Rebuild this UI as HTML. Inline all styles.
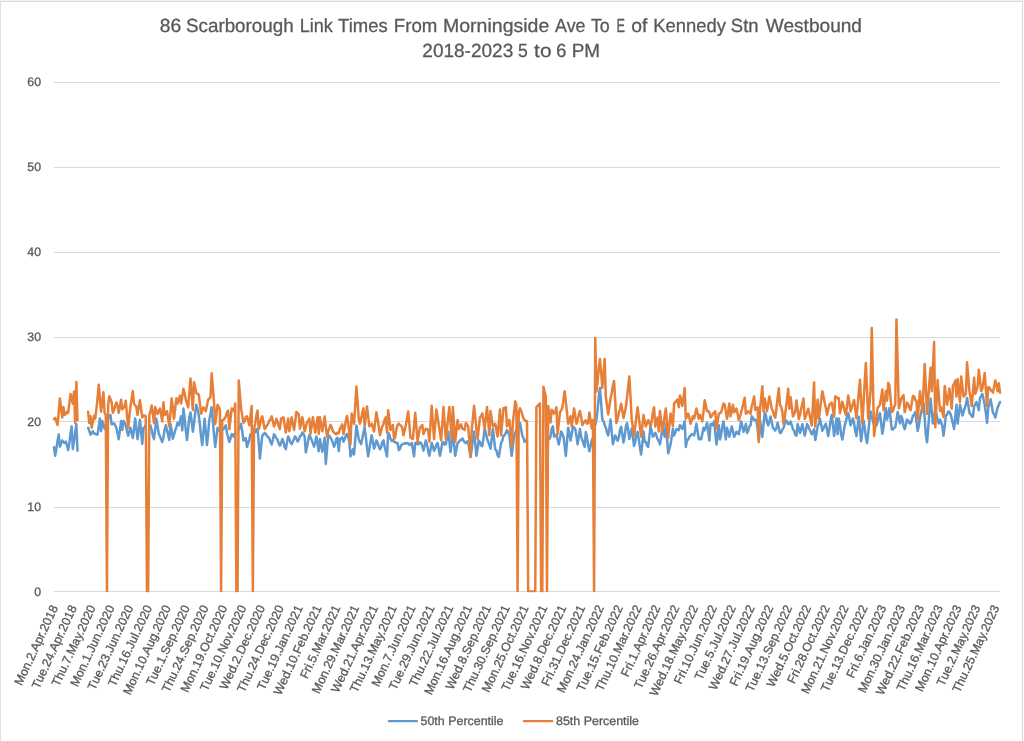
<!DOCTYPE html>
<html><head><meta charset="utf-8"><title>86 Scarborough Link Times</title>
<style>
html,body{margin:0;padding:0;background:#fff;}
body{width:1024px;height:741px;overflow:hidden;font-family:"Liberation Sans", sans-serif;}
svg{display:block;}
svg text{text-rendering:geometricPrecision;font-family:"Liberation Sans", sans-serif;fill:#595959;stroke:#595959;stroke-width:0.3px;}
</style></head><body>
<svg width="1024" height="741" viewBox="0 0 1024 741">
<defs><filter id="soft" x="-1%" y="-1%" width="102%" height="102%"><feGaussianBlur stdDeviation="0.3"/></filter></defs>
<rect x="0" y="0" width="1024" height="741" fill="#fff"/>
<g filter="url(#soft)">

<rect x="0" y="0" width="1023" height="1" fill="#f2f2f2"/>
<rect x="0" y="1" width="1023" height="1" fill="#d9d9d9"/>
<rect x="0" y="1" width="1" height="740" fill="#e0e0e0"/>
<rect x="1022" y="1" width="1" height="740" fill="#d9d9d9"/>
<g transform="translate(0,-0.45)">
<text x="159.89" y="32.6" font-size="19.0" textLength="21.46" lengthAdjust="spacingAndGlyphs">86</text>
<text x="186.01" y="32.6" font-size="19.0" textLength="107.68" lengthAdjust="spacingAndGlyphs">Scarborough</text>
<text x="299.75" y="32.6" font-size="19.0" textLength="33.12" lengthAdjust="spacingAndGlyphs">Link</text>
<text x="338.1" y="32.6" font-size="19.0" textLength="49.63" lengthAdjust="spacingAndGlyphs">Times</text>
<text x="393.82" y="32.6" font-size="19.0" textLength="43.5" lengthAdjust="spacingAndGlyphs">From</text>
<text x="442.97" y="32.6" font-size="19.0" textLength="106.34" lengthAdjust="spacingAndGlyphs">Morningside</text>
<text x="555.1" y="32.6" font-size="19.0" textLength="30.38" lengthAdjust="spacingAndGlyphs">Ave</text>
<text x="590.9" y="32.6" font-size="19.0" textLength="18.87" lengthAdjust="spacingAndGlyphs">To</text>
<text x="616.43" y="32.6" font-size="19.0" textLength="8.54" lengthAdjust="spacingAndGlyphs">E</text>
<text x="631.2" y="32.6" font-size="19.0" textLength="16.16" lengthAdjust="spacingAndGlyphs">of</text>
<text x="653.13" y="32.6" font-size="19.0" textLength="72.79" lengthAdjust="spacingAndGlyphs">Kennedy</text>
<text x="730.83" y="32.6" font-size="19.0" textLength="27.69" lengthAdjust="spacingAndGlyphs">Stn</text>
<text x="765.8" y="32.6" font-size="19.0" textLength="96.18" lengthAdjust="spacingAndGlyphs">Westbound</text>
<text x="422.3" y="57.6" font-size="19.0" textLength="90.98" lengthAdjust="spacingAndGlyphs">2018-2023</text>
<text x="517.98" y="57.6" font-size="19.0" textLength="9.76" lengthAdjust="spacingAndGlyphs">5</text>
<text x="534.1" y="57.6" font-size="19.0" textLength="17.45" lengthAdjust="spacingAndGlyphs">to</text>
<text x="556.34" y="57.6" font-size="19.0" textLength="10.11" lengthAdjust="spacingAndGlyphs">6</text>
<text x="571.7" y="57.6" font-size="19.0" textLength="28.39" lengthAdjust="spacingAndGlyphs">PM</text>
</g>
<rect x="54" y="591" width="946" height="1" fill="#d9d9d9"/>
<rect x="54" y="507" width="946" height="1" fill="#d9d9d9"/>
<rect x="54" y="421" width="946" height="1" fill="#d9d9d9"/>
<rect x="54" y="337" width="946" height="1" fill="#d9d9d9"/>
<rect x="54" y="252" width="946" height="1" fill="#d9d9d9"/>
<rect x="54" y="167" width="946" height="1" fill="#d9d9d9"/>
<rect x="54" y="82" width="946" height="1" fill="#d9d9d9"/>
<text x="41.0" y="596" font-size="12.3" text-anchor="end">0</text>
<text x="41.0" y="511" font-size="12.3" text-anchor="end">10</text>
<text x="41.0" y="426" font-size="12.3" text-anchor="end">20</text>
<text x="41.0" y="341" font-size="12.3" text-anchor="end">30</text>
<text x="41.0" y="256" font-size="12.3" text-anchor="end">40</text>
<text x="41.0" y="171" font-size="12.3" text-anchor="end">50</text>
<text x="41.0" y="86" font-size="12.3" text-anchor="end">60</text>
<text transform="translate(54.30,605.8) rotate(-65)" x="0" y="4.4" font-size="12.3" text-anchor="end">Mon.2.Apr.2018</text>
<text transform="translate(73.13,605.8) rotate(-65)" x="0" y="4.4" font-size="12.3" text-anchor="end">Tue.24.Apr.2018</text>
<text transform="translate(91.95,605.8) rotate(-65)" x="0" y="4.4" font-size="12.3" text-anchor="end">Thu.7.May.2020</text>
<text transform="translate(110.78,605.8) rotate(-65)" x="0" y="4.4" font-size="12.3" text-anchor="end">Mon.1.Jun.2020</text>
<text transform="translate(129.60,605.8) rotate(-65)" x="0" y="4.4" font-size="12.3" text-anchor="end">Tue.23.Jun.2020</text>
<text transform="translate(148.43,605.8) rotate(-65)" x="0" y="4.4" font-size="12.3" text-anchor="end">Thu.16.Jul.2020</text>
<text transform="translate(167.26,605.8) rotate(-65)" x="0" y="4.4" font-size="12.3" text-anchor="end">Mon.10.Aug.2020</text>
<text transform="translate(186.08,605.8) rotate(-65)" x="0" y="4.4" font-size="12.3" text-anchor="end">Tue.1.Sep.2020</text>
<text transform="translate(204.91,605.8) rotate(-65)" x="0" y="4.4" font-size="12.3" text-anchor="end">Thu.24.Sep.2020</text>
<text transform="translate(223.73,605.8) rotate(-65)" x="0" y="4.4" font-size="12.3" text-anchor="end">Mon.19.Oct.2020</text>
<text transform="translate(242.56,605.8) rotate(-65)" x="0" y="4.4" font-size="12.3" text-anchor="end">Tue.10.Nov.2020</text>
<text transform="translate(261.38,605.8) rotate(-65)" x="0" y="4.4" font-size="12.3" text-anchor="end">Wed.2.Dec.2020</text>
<text transform="translate(280.21,605.8) rotate(-65)" x="0" y="4.4" font-size="12.3" text-anchor="end">Thu.24.Dec.2020</text>
<text transform="translate(299.04,605.8) rotate(-65)" x="0" y="4.4" font-size="12.3" text-anchor="end">Tue.19.Jan.2021</text>
<text transform="translate(317.86,605.8) rotate(-65)" x="0" y="4.4" font-size="12.3" text-anchor="end">Wed.10.Feb.2021</text>
<text transform="translate(336.69,605.8) rotate(-65)" x="0" y="4.4" font-size="12.3" text-anchor="end">Fri.5.Mar.2021</text>
<text transform="translate(355.51,605.8) rotate(-65)" x="0" y="4.4" font-size="12.3" text-anchor="end">Mon.29.Mar.2021</text>
<text transform="translate(374.34,605.8) rotate(-65)" x="0" y="4.4" font-size="12.3" text-anchor="end">Wed.21.Apr.2021</text>
<text transform="translate(393.17,605.8) rotate(-65)" x="0" y="4.4" font-size="12.3" text-anchor="end">Thu.13.May.2021</text>
<text transform="translate(411.99,605.8) rotate(-65)" x="0" y="4.4" font-size="12.3" text-anchor="end">Mon.7.Jun.2021</text>
<text transform="translate(430.82,605.8) rotate(-65)" x="0" y="4.4" font-size="12.3" text-anchor="end">Tue.29.Jun.2021</text>
<text transform="translate(449.64,605.8) rotate(-65)" x="0" y="4.4" font-size="12.3" text-anchor="end">Thu.22.Jul.2021</text>
<text transform="translate(468.47,605.8) rotate(-65)" x="0" y="4.4" font-size="12.3" text-anchor="end">Mon.16.Aug.2021</text>
<text transform="translate(487.30,605.8) rotate(-65)" x="0" y="4.4" font-size="12.3" text-anchor="end">Wed.8.Sep.2021</text>
<text transform="translate(506.12,605.8) rotate(-65)" x="0" y="4.4" font-size="12.3" text-anchor="end">Thu.30.Sep.2021</text>
<text transform="translate(524.95,605.8) rotate(-65)" x="0" y="4.4" font-size="12.3" text-anchor="end">Mon.25.Oct.2021</text>
<text transform="translate(543.77,605.8) rotate(-65)" x="0" y="4.4" font-size="12.3" text-anchor="end">Tue.16.Nov.2021</text>
<text transform="translate(562.60,605.8) rotate(-65)" x="0" y="4.4" font-size="12.3" text-anchor="end">Wed.8.Dec.2021</text>
<text transform="translate(581.42,605.8) rotate(-65)" x="0" y="4.4" font-size="12.3" text-anchor="end">Fri.31.Dec.2021</text>
<text transform="translate(600.25,605.8) rotate(-65)" x="0" y="4.4" font-size="12.3" text-anchor="end">Mon.24.Jan.2022</text>
<text transform="translate(619.08,605.8) rotate(-65)" x="0" y="4.4" font-size="12.3" text-anchor="end">Tue.15.Feb.2022</text>
<text transform="translate(637.90,605.8) rotate(-65)" x="0" y="4.4" font-size="12.3" text-anchor="end">Thu.10.Mar.2022</text>
<text transform="translate(656.73,605.8) rotate(-65)" x="0" y="4.4" font-size="12.3" text-anchor="end">Fri.1.Apr.2022</text>
<text transform="translate(675.55,605.8) rotate(-65)" x="0" y="4.4" font-size="12.3" text-anchor="end">Tue.26.Apr.2022</text>
<text transform="translate(694.38,605.8) rotate(-65)" x="0" y="4.4" font-size="12.3" text-anchor="end">Wed.18.May.2022</text>
<text transform="translate(713.21,605.8) rotate(-65)" x="0" y="4.4" font-size="12.3" text-anchor="end">Fri.10.Jun.2022</text>
<text transform="translate(732.03,605.8) rotate(-65)" x="0" y="4.4" font-size="12.3" text-anchor="end">Tue.5.Jul.2022</text>
<text transform="translate(750.86,605.8) rotate(-65)" x="0" y="4.4" font-size="12.3" text-anchor="end">Wed.27.Jul.2022</text>
<text transform="translate(769.68,605.8) rotate(-65)" x="0" y="4.4" font-size="12.3" text-anchor="end">Fri.19.Aug.2022</text>
<text transform="translate(788.51,605.8) rotate(-65)" x="0" y="4.4" font-size="12.3" text-anchor="end">Tue.13.Sep.2022</text>
<text transform="translate(807.33,605.8) rotate(-65)" x="0" y="4.4" font-size="12.3" text-anchor="end">Wed.5.Oct.2022</text>
<text transform="translate(826.16,605.8) rotate(-65)" x="0" y="4.4" font-size="12.3" text-anchor="end">Fri.28.Oct.2022</text>
<text transform="translate(844.99,605.8) rotate(-65)" x="0" y="4.4" font-size="12.3" text-anchor="end">Mon.21.Nov.2022</text>
<text transform="translate(863.81,605.8) rotate(-65)" x="0" y="4.4" font-size="12.3" text-anchor="end">Tue.13.Dec.2022</text>
<text transform="translate(882.64,605.8) rotate(-65)" x="0" y="4.4" font-size="12.3" text-anchor="end">Fri.6.Jan.2023</text>
<text transform="translate(901.46,605.8) rotate(-65)" x="0" y="4.4" font-size="12.3" text-anchor="end">Mon.30.Jan.2023</text>
<text transform="translate(920.29,605.8) rotate(-65)" x="0" y="4.4" font-size="12.3" text-anchor="end">Wed.22.Feb.2023</text>
<text transform="translate(939.12,605.8) rotate(-65)" x="0" y="4.4" font-size="12.3" text-anchor="end">Thu.16.Mar.2023</text>
<text transform="translate(957.94,605.8) rotate(-65)" x="0" y="4.4" font-size="12.3" text-anchor="end">Mon.10.Apr.2023</text>
<text transform="translate(976.77,605.8) rotate(-65)" x="0" y="4.4" font-size="12.3" text-anchor="end">Tue.2.May.2023</text>
<text transform="translate(995.59,605.8) rotate(-65)" x="0" y="4.4" font-size="12.3" text-anchor="end">Thu.25.May.2023</text>
<clipPath id="pa"><rect x="0" y="0" width="1024" height="592.3"/></clipPath>
<g clip-path="url(#pa)">
<path d="M54.00,447.2 55.18,455.8 56.35,448.9 57.53,441.1 58.71,434.6 59.88,446.7 61.06,443.8 62.24,440.4 63.41,442.1 64.59,443.0 65.77,441.5 66.94,444.9 68.12,450.1 69.30,443.4 70.47,434.1 71.65,426.6 72.83,449.0 74.00,441.5 75.18,432.3 76.36,424.3 77.53,450.7M88.12,427.8 89.30,430.9 90.48,434.6 91.65,433.4 92.83,431.2 94.00,433.5 95.18,433.6 96.36,434.6 97.53,434.6 98.71,427.0 99.89,418.6 101.06,431.2 102.24,420.9 103.42,424.7 104.59,428.9 105.77,428.0M108.12,418.0 109.30,416.0 110.48,415.1 111.65,424.3 112.83,424.0 114.01,423.2 115.18,425.2 116.36,427.8 117.54,433.4 118.71,439.2 119.89,430.5 121.07,420.9 122.24,430.0 123.42,420.9 124.60,422.8 125.77,425.5 126.95,430.6 128.13,435.8 129.30,432.0 130.48,427.8 131.66,432.7 132.83,438.1 134.01,428.9 135.19,418.6 136.36,428.5 137.54,439.2 138.72,430.5 139.89,419.7 141.07,430.9 142.25,443.8 143.42,427.8 144.60,427.3 145.78,425.0M149.31,428.0 150.48,425.5 151.66,429.9 152.84,435.7 154.01,439.2 155.19,429.3 156.37,418.6 157.54,425.9 158.72,433.5 159.90,436.0 161.07,439.3 162.25,441.9 163.43,437.2 164.60,429.7 165.78,425.3 166.96,429.8 168.13,435.3 169.31,440.0 170.49,424.0 171.66,430.4 172.84,438.7 174.01,434.9 175.19,430.4 176.37,427.1 177.54,422.7 178.72,425.3 179.90,421.1 181.07,416.3 182.25,430.4 183.43,408.6 184.60,418.1 185.78,429.8 186.96,440.0 188.13,429.5 189.31,417.6 190.49,412.4 191.66,421.1 192.84,431.7 194.02,423.8 195.19,412.7 196.37,404.7 197.55,409.1 198.72,415.0 199.90,424.9 201.08,436.3 202.25,445.1 203.43,432.0 204.61,418.8 205.78,431.5 206.96,445.1 208.14,433.8 209.31,420.1 210.49,413.8 211.67,407.3 212.84,420.3 214.02,434.5 215.20,447.0 216.37,437.7 217.55,427.8 218.73,429.7 219.90,431.7M222.26,428.0 223.43,429.1 224.61,427.3 225.79,425.3 226.96,433.0 228.14,437.1 229.32,441.9 230.49,438.6 231.67,434.2 232.85,434.7 234.02,436.8 235.20,433.0M238.73,430.0 239.91,427.0 241.08,424.0 242.26,431.5 243.44,440.6 244.61,439.4 245.79,438.1 246.97,447.1 248.14,443.6 249.32,439.4 250.50,434.2 251.67,433.9M254.02,432.0 255.20,432.3 256.38,429.2 257.55,429.1 258.73,443.0 259.91,458.6 261.08,447.2 262.26,435.5 263.44,434.4 264.61,432.9 265.79,433.9 266.97,436.2 268.14,436.8 269.32,438.5 270.50,442.0 271.67,444.5 272.85,439.7 274.03,434.2 275.20,436.1 276.38,438.1 277.56,439.8 278.73,443.4 279.91,445.8 281.09,443.0 282.26,439.0 283.44,441.6 284.62,447.2 285.79,449.2 286.97,443.1 288.15,436.4 289.32,438.8 290.50,442.4 291.68,444.1 292.85,441.8 294.03,438.9 295.21,436.4 296.38,438.7 297.56,441.5 298.74,440.0 299.91,436.4 301.09,435.6 302.27,432.6 303.44,433.7 304.62,436.4 305.80,452.4 306.97,446.9 308.15,440.5 309.33,435.1 310.50,437.2 311.68,440.3 312.86,443.2 314.03,446.7 315.21,442.8 316.39,436.4 317.56,443.6 318.74,451.2 319.92,439.0 321.09,445.2 322.27,451.8 323.45,445.7 324.62,437.7 325.80,464.0 326.98,450.1 328.15,435.1 329.33,435.9 330.50,437.7 331.68,439.8 332.86,442.8 334.03,446.7 335.21,444.1 336.39,438.7 337.56,437.7 338.74,451.2 339.92,439.1 341.09,438.6 342.27,437.2 343.45,441.7 344.62,439.3 345.80,435.6 346.98,434.0 348.15,437.0 349.33,441.7 350.51,456.4 351.68,453.3 352.86,449.4 354.04,454.5 355.21,440.1 356.39,425.6 357.57,432.0 358.74,439.1 359.92,441.6 361.10,444.2 362.27,438.8 363.45,432.4 364.63,427.6 365.80,436.4 366.98,447.5 368.16,456.4 369.33,449.3 370.51,441.7 371.69,435.3 372.86,441.7 374.04,448.7 375.22,445.2 376.39,440.4 377.57,442.8 378.75,446.5 379.92,449.4 381.10,447.1 382.28,442.1 383.45,440.4 384.63,446.8 385.81,451.2 386.98,456.4 388.16,432.7 389.34,434.9 390.51,438.7 391.69,441.0 392.87,440.3 394.04,441.7 395.22,442.1 396.40,443.1 397.57,443.0 398.75,450.0 399.93,449.0 401.10,445.3 402.28,444.2 403.46,444.1 404.63,443.2 405.81,443.7 406.99,443.0 408.16,443.2 409.34,444.9 410.51,444.3 411.69,443.0 412.87,449.3 414.04,456.4 415.22,443.0 416.40,442.7 417.57,444.2 418.75,444.1 419.93,442.3 421.10,443.0 422.28,446.1 423.46,450.6 424.63,445.7 425.81,440.4 426.99,444.6 428.16,451.2 429.34,455.8 430.52,449.4 431.69,443.0 432.87,446.6 434.05,450.6 435.22,448.3 436.40,444.8 437.58,443.0 438.75,449.1 439.93,455.8 441.11,449.4 442.28,443.0 443.46,442.0 444.64,444.6 445.81,444.2 446.99,437.9 448.17,431.4 449.34,440.6 450.52,451.9 451.70,442.7 452.87,432.7 454.05,444.1 455.23,455.8 456.40,449.5 457.58,443.0 458.76,442.2 459.93,440.4 461.11,439.8 462.29,438.5 463.46,440.3 464.64,442.3 465.82,443.1 466.99,441.6 468.17,441.7 469.35,449.2 470.52,457.0 471.70,449.4 472.88,438.9 474.05,431.4 475.23,443.3 476.41,455.8 477.58,449.1 478.76,440.4 479.94,442.2 481.11,445.5 482.29,446.2 483.47,438.1 484.64,428.8 485.82,432.3 487.00,438.5 488.17,441.7 489.35,444.8 490.52,448.7 491.70,438.8 492.88,428.8 494.05,439.0 495.23,449.4 496.41,450.4 497.58,455.2 498.76,457.0 499.94,450.1 501.11,442.9 502.29,440.9 503.47,435.8 504.64,435.3 505.82,432.9 507.00,430.1 508.17,432.3 509.35,435.3 510.53,445.5 511.70,455.8 512.88,445.9 514.06,435.3 515.23,432.9 516.41,430.0M518.76,428.0 519.94,423.0 521.12,429.1 522.29,435.4 523.47,438.0 524.65,441.8 525.82,440.5M549.36,439.2 550.53,436.4 551.71,428.8 552.89,426.4 554.06,436.7 555.24,436.0 556.42,434.7 557.59,439.3 558.77,444.4 559.95,438.4 561.12,431.5 562.30,433.7 563.48,436.7 564.65,445.6 565.83,455.9 567.00,442.0 568.18,427.7 569.36,433.2 570.53,440.5 571.71,434.4 572.89,426.4 574.06,427.5 575.24,429.0 576.42,436.1 577.59,444.4 578.77,436.8 579.95,429.0 581.12,436.7 582.30,440.0 583.48,443.7 584.65,446.9 585.83,431.9 587.01,437.6 588.18,445.2 589.36,451.3 590.54,446.1 591.71,440.7 592.89,438.0M595.24,425.0 596.42,419.6 597.60,410.3 598.77,397.2 599.95,388.0 601.13,403.1 602.30,419.6 603.48,421.1 604.66,424.9 605.83,427.7 607.01,432.4 608.19,435.4 609.36,428.5 610.54,419.6 611.72,431.6 612.89,444.2 614.07,440.1 615.25,435.4 616.42,437.8 617.60,440.7 618.78,437.8 619.95,430.2 621.13,426.7 622.31,434.3 623.48,442.5 624.66,436.5 625.84,426.7 627.01,423.1 628.19,430.0 629.37,439.0 630.54,434.2 631.72,428.4 632.90,437.0 634.07,446.0 635.25,441.9 636.43,434.3 637.60,431.9 638.78,439.4 639.96,447.8 641.13,454.6 642.31,443.7 643.49,431.5 644.66,441.8 645.84,441.9 647.01,445.7 648.19,446.9 649.37,436.7 650.54,426.4 651.72,431.5 652.90,436.7 654.07,435.2 655.25,432.8 656.43,435.6 657.60,439.2 658.78,441.2 659.96,444.4 661.13,436.9 662.31,427.7 663.49,432.0 664.66,436.7 665.84,423.8 667.02,438.2 668.19,453.3 669.37,448.9 670.55,444.4 671.72,437.0 672.90,429.0 674.08,435.4 675.25,432.8 676.43,429.0 677.61,429.4 678.78,430.3 679.96,425.1 681.14,426.7 682.31,429.0 683.49,425.8 684.67,421.3 685.84,446.9 687.02,440.5 688.20,439.5 689.37,436.7 690.55,435.8 691.73,434.1 692.90,434.4 694.08,435.4 695.26,430.0 696.43,423.8 697.61,431.5 698.79,439.2 699.96,438.6 701.14,439.4 702.32,433.8 703.49,427.8 704.67,430.4 705.85,427.2 707.02,422.7 708.20,431.5 709.38,440.6 710.55,424.0 711.73,424.1 712.91,425.3 714.08,421.4 715.26,432.7 716.44,444.5 717.61,435.6 718.79,425.3 719.97,439.4 721.14,435.0 722.32,426.4 723.50,421.4 724.67,430.1 725.85,439.4 727.02,427.8 728.20,432.2 729.38,436.8 730.55,431.7 731.73,426.5 732.91,430.9 734.08,436.8 735.26,434.7 736.44,431.7 737.61,432.8 738.79,434.2 739.97,428.2 741.14,421.4 742.32,426.2 743.50,431.7 744.67,428.6 745.85,424.0 747.03,432.9 748.20,430.9 749.38,426.5 750.56,425.3 751.73,416.3 752.91,417.8 754.09,420.1 755.26,419.7 756.44,420.1 757.62,429.0 758.79,440.6 759.97,420.3 761.15,428.2 762.32,436.9 763.50,425.0 764.68,412.6 765.85,414.9 767.03,422.2 768.21,425.4 769.38,421.4 770.56,416.4 771.74,421.9 772.91,427.9 774.09,429.0 775.27,430.5 776.44,428.0 777.62,422.8 778.80,427.8 779.97,433.1 781.15,432.5 782.33,429.6 783.50,427.9 784.68,424.2 785.86,420.3 787.03,421.6 788.21,424.1 789.39,423.8 790.56,421.5 791.74,425.0 792.92,429.2 794.09,430.6 795.27,435.0 796.45,435.6 797.62,424.1 798.80,428.3 799.98,433.1 801.15,428.8 802.33,424.1 803.50,429.4 804.68,435.6 805.86,430.6 807.03,424.1 808.21,426.0 809.39,429.2 810.56,431.5 811.74,434.4 812.92,431.8 814.09,429.2 815.27,440.1 816.45,433.9 817.62,426.7 818.80,423.6 819.98,419.0 821.15,424.6 822.33,430.7 823.51,428.5 824.68,425.6 825.86,423.7 827.04,429.6 828.21,436.0 829.39,429.4 830.57,420.7 831.74,414.9 832.92,424.8 834.10,436.0 835.27,428.1 836.45,418.4 837.63,434.2 838.80,418.4 839.98,425.0 841.16,434.7 842.33,439.5 843.51,433.3 844.69,425.4 845.86,421.4 847.04,416.8 848.22,413.1 849.39,418.8 850.57,425.4 851.75,422.0 852.92,418.4 854.10,423.2 855.28,431.3 856.45,436.0 857.63,426.6 858.81,416.7 859.98,428.9 861.16,441.3 862.34,431.1 863.51,420.2 864.69,427.4 865.87,437.2 867.04,443.0 868.22,433.0 869.40,421.2 870.57,411.4 871.75,416.0 872.93,421.0 874.10,425.4 875.28,424.9 876.46,425.4 877.63,421.4 878.81,416.5 879.99,413.1 881.16,423.4 882.34,433.8 883.51,427.2 884.69,416.6 885.87,408.3 887.04,419.6 888.22,414.5 889.40,408.3 890.57,417.9 891.75,429.1 892.93,429.6 894.10,427.8 895.28,427.2 896.46,420.2 897.63,412.1 898.81,417.5 899.99,423.4 901.16,415.9 902.34,418.7 903.52,426.0 904.69,429.1 905.87,424.5 907.05,419.6 908.22,420.6 909.40,423.2 910.58,423.4 911.75,420.3 912.93,415.9 914.11,414.7 915.28,412.1 916.46,420.9 917.64,431.0 918.81,425.7 919.99,418.2 921.17,412.1 922.34,407.5 923.52,402.6 924.70,418.1 925.87,434.8 927.05,442.3 928.23,427.9 929.40,412.7 930.58,398.8 931.76,411.1 932.93,423.4 934.11,417.0 935.29,410.2 936.46,414.3 937.64,420.2 938.82,423.4 939.99,419.6 941.17,422.3 942.35,426.3 943.52,435.8 944.70,426.1 945.88,415.5 947.05,414.5 948.23,411.5 949.41,411.8 950.58,414.2 951.76,418.8 952.94,423.6 954.11,429.0 955.29,416.9 956.47,404.7 957.64,423.6 958.82,414.4 960.00,404.7 961.17,409.3 962.35,415.5 963.52,412.0 964.70,408.2 965.88,404.7 967.05,398.0 968.23,404.8 969.41,412.8 970.58,414.1 971.76,416.1 972.94,416.9 974.11,406.1 975.29,404.5 976.47,402.0 977.64,406.0 978.82,410.1 980.00,398.0 981.17,396.2 982.35,394.0 983.53,399.0 984.70,404.7 985.88,413.3 987.06,422.9 988.23,407.4 989.41,403.8 990.59,399.3 991.76,405.8 992.94,412.8 994.12,414.3 995.29,417.5 996.47,412.6 997.65,407.4 998.82,404.9 1000.00,402.0" fill="none" stroke="#5f99d0" stroke-width="2.5" stroke-linejoin="round" stroke-linecap="round"/>
<path d="M54.00,419.2 55.18,418.0 56.35,421.3 57.53,424.9 58.71,412.1 59.88,398.5 61.06,407.8 62.24,417.4 63.41,407.0 64.59,415.0 65.77,414.0 66.94,411.7 68.12,412.8 69.30,403.8 70.47,393.9 71.65,398.6 72.83,403.7 74.00,391.6 75.18,423.0 76.36,381.9 77.53,420.0M88.12,411.7 89.30,423.0 90.48,416.3 91.65,427.8 92.83,422.0 94.00,415.7 95.18,418.6 96.36,409.1 97.53,399.0 98.71,384.7 99.89,398.0 101.06,411.7 102.24,402.1 103.42,392.2 104.59,412.8 105.77,415.0 106.95,591.5 108.12,405.0 109.30,396.2 110.48,399.1 111.65,402.5 112.83,412.8 114.01,410.1 115.18,405.8 116.36,402.5 117.54,406.0 118.71,412.8 119.89,406.5 121.07,399.7 122.24,409.4 123.42,408.0 124.60,406.0 125.77,400.8 126.95,414.3 128.13,427.8 129.30,417.0 130.48,406.0 131.66,398.9 132.83,391.0 134.01,403.7 135.19,405.2 136.36,407.0 137.54,415.1 138.72,407.7 139.89,400.2 141.07,408.7 142.25,417.4 143.42,415.7 144.60,415.4 145.78,416.3 146.95,591.5 148.13,591.5 149.31,415.1 150.48,411.2 151.66,405.4 152.84,414.2 154.01,423.2 155.19,407.1 156.37,410.3 157.54,414.0 158.72,411.4 159.90,408.5 161.07,414.8 162.25,421.4 163.43,402.2 164.60,415.0 165.78,414.2 166.96,411.2 168.13,418.3 169.31,426.5 170.49,412.6 171.66,398.3 172.84,407.5 174.01,418.8 175.19,408.9 176.37,398.3 177.54,403.5 178.72,400.0 179.90,395.8 181.07,403.5 182.25,396.4 183.43,388.7 184.60,393.3 185.78,399.6 186.96,403.4 188.13,407.3 189.31,393.0 190.49,378.5 191.66,393.6 192.84,409.9 194.02,382.3 195.19,387.4 196.37,393.2 197.55,393.8 198.72,394.5 199.90,403.6 201.08,413.7 202.25,410.5 203.43,407.3 204.61,409.2 205.78,411.2 206.96,405.4 208.14,399.6 209.31,398.6 210.49,397.0 211.67,373.3 212.84,387.5 214.02,402.2 215.20,424.0 216.37,414.8 217.55,404.7 218.73,407.1 219.90,409.9 221.08,591.5 222.26,420.1 223.43,419.8 224.61,418.8 225.79,416.5 226.96,412.4 228.14,410.5 229.32,429.1 230.49,419.4 231.67,408.6 232.85,409.4 234.02,411.2 235.20,403.5 236.38,591.5 237.55,591.5 238.73,380.4 239.91,394.5 241.08,408.6 242.26,415.5 243.44,422.7 244.61,421.5 245.79,417.3 246.97,416.3 248.14,420.7 249.32,425.3 250.50,415.9 251.67,406.0 252.85,591.5 254.02,429.1 255.20,423.7 256.38,415.1 257.55,410.5 258.73,429.1 259.91,425.1 261.08,419.3 262.26,416.3 263.44,422.6 264.61,429.1 265.79,427.6 266.97,425.3 268.14,423.8 269.32,420.5 270.50,419.4 271.67,416.3 272.85,421.2 274.03,426.5 275.20,423.4 276.38,418.8 277.56,422.1 278.73,426.1 279.91,429.1 281.09,418.5 282.26,418.2 283.44,417.2 284.62,424.8 285.79,432.6 286.97,426.4 288.15,418.5 289.32,431.3 290.50,424.8 291.68,417.2 292.85,423.2 294.03,430.0 295.21,421.3 296.38,412.0 297.56,413.0 298.74,414.6 299.91,428.7 301.09,423.0 302.27,417.2 303.44,424.0 304.62,431.3 305.80,427.0 306.97,422.3 308.15,420.8 309.33,418.5 310.50,433.8 311.68,425.6 312.86,417.2 314.03,424.9 315.21,432.6 316.39,425.0 317.56,417.2 318.74,433.8 319.92,417.2 321.09,423.7 322.27,431.3 323.45,425.0 324.62,416.5 325.80,426.4 326.98,436.4 328.15,431.3 329.33,428.1 330.50,424.9 331.68,427.4 332.86,431.3 334.03,432.4 335.21,433.8 336.39,434.3 337.56,432.5 338.74,433.2 339.92,428.8 341.09,426.7 342.27,424.4 343.45,434.0 344.62,428.7 345.80,420.8 346.98,416.0 348.15,422.4 349.33,433.1 350.51,444.2 351.68,413.5 352.86,418.2 354.04,423.7 355.21,405.9 356.39,386.5 357.57,401.7 358.74,418.6 359.92,423.7 361.10,418.7 362.27,412.7 363.45,408.3 364.63,426.3 365.80,416.4 366.98,406.4 368.16,416.3 369.33,426.3 370.51,425.4 371.69,423.7 372.86,427.5 374.04,431.4 375.22,421.8 376.39,412.2 377.57,418.9 378.75,426.3 379.92,435.3 381.10,431.0 382.28,426.3 383.45,424.3 384.63,419.6 385.81,417.3 386.98,432.7 388.16,410.3 389.34,419.4 390.51,430.1 391.69,428.3 392.87,425.0 394.04,439.1 395.22,436.9 396.40,429.1 397.57,425.0 398.75,423.7 399.93,425.0 401.10,425.8 402.28,427.6 403.46,435.3 404.63,430.8 405.81,425.0 406.99,418.5 408.16,411.5 409.34,424.2 410.51,437.8 411.69,438.2 412.87,439.1 414.04,426.1 415.22,412.8 416.40,427.0 417.57,441.7 418.75,434.9 419.93,427.6 421.10,426.4 422.28,425.0 423.46,434.0 424.63,431.5 425.81,428.8 426.99,429.0 428.16,430.1 429.34,441.7 430.52,423.9 431.69,405.8 432.87,422.0 434.05,439.1 435.22,424.4 436.40,409.6 437.58,416.7 438.75,425.0 439.93,432.2 441.11,440.4 442.28,424.5 443.46,407.1 444.64,423.1 445.81,439.1 446.99,428.5 448.17,417.3 449.34,407.1 450.52,422.9 451.70,439.1 452.87,407.1 454.05,424.3 455.23,441.7 456.40,431.0 457.58,419.9 458.76,428.8 459.93,426.7 461.11,424.4 462.29,428.8 463.46,428.9 464.64,430.1 465.82,423.1 466.99,424.3 468.17,426.3 469.35,441.4 470.52,457.0 471.70,430.1 472.88,418.5 474.05,405.8 475.23,416.8 476.41,428.8 477.58,439.1 478.76,428.4 479.94,417.3 481.11,416.2 482.29,413.5 483.47,420.6 484.64,428.8 485.82,418.0 487.00,407.1 488.17,420.1 489.35,435.3 490.52,410.9 491.70,418.6 492.88,426.3 494.05,425.4 495.23,423.7 496.41,430.0 497.58,436.5 498.76,423.4 499.94,409.6 501.11,435.3 502.29,421.9 503.47,408.3 504.64,408.1 505.82,407.1 507.00,426.3 508.17,423.4 509.35,419.9 510.53,432.4 511.70,446.8 512.88,422.4 514.06,412.0 515.23,401.3 516.41,405.0 517.59,591.5 518.76,412.0 519.94,408.3 521.12,410.9 522.29,414.7 523.47,418.6 524.65,419.9 525.82,421.3 527.00,421.3 528.18,591.5 529.35,591.5 530.53,591.5 531.71,591.5 532.88,591.5 534.06,591.5 535.24,591.5 536.41,407.2 537.59,405.9 538.77,404.5 539.94,403.3 541.12,591.5 542.30,591.5 543.47,386.7 544.65,392.0 545.83,396.0 547.00,591.5 548.18,405.9 549.36,414.2 550.53,422.6 551.71,409.7 552.89,411.2 554.06,413.6 555.24,411.8 556.42,407.2 557.59,434.1 558.77,423.6 559.95,412.3 561.12,410.6 562.30,407.8 563.48,399.9 564.65,391.2 565.83,401.7 567.00,412.3 568.18,423.8 569.36,420.8 570.53,416.2 571.71,426.4 572.89,417.5 574.06,408.5 575.24,415.9 576.42,423.8 577.59,420.8 578.77,414.3 579.95,411.0 581.12,416.7 582.30,425.1 583.48,423.2 584.65,421.3 585.83,420.3 587.01,423.6 588.18,423.1 589.36,412.6 590.54,420.4 591.71,428.4 592.89,420.0 594.07,591.5 595.24,337.9 596.42,391.5 597.60,381.7 598.77,368.0 599.95,359.0 601.13,372.5 602.30,388.0 603.48,374.0 604.66,359.0 605.83,396.8 607.01,405.4 608.19,414.4 609.36,406.8 610.54,398.5 611.72,392.7 612.89,385.6 614.07,381.0 615.25,401.1 616.42,423.1 617.60,419.2 618.78,413.2 619.95,409.1 621.13,403.8 622.31,410.5 623.48,417.9 624.66,412.7 625.84,407.3 627.01,397.6 628.19,386.7 629.37,376.6 630.54,397.5 631.72,419.6 632.90,427.3 634.07,435.4 635.25,426.2 636.43,416.3 637.60,407.3 638.78,417.0 639.96,427.2 641.13,436.7 642.31,426.2 643.49,414.9 644.66,420.5 645.84,426.4 647.01,423.3 648.19,420.0 649.37,422.9 650.54,426.4 651.72,420.5 652.90,412.3 654.07,407.2 655.25,426.4 656.43,422.2 657.60,417.4 658.78,431.5 659.96,411.0 661.13,420.7 662.31,431.5 663.49,424.6 664.66,415.8 665.84,408.5 667.02,423.0 668.19,438.0 669.37,426.0 670.55,413.6 671.72,419.0 672.90,426.4 674.08,403.3 675.25,402.5 676.43,400.5 677.61,399.5 678.78,407.2 679.96,395.6 681.14,400.0 682.31,405.9 683.49,397.3 684.67,388.0 685.84,418.7 687.02,416.5 688.20,413.6 689.37,418.1 690.55,423.8 691.73,420.0 692.90,416.2 694.08,418.7 695.26,413.7 696.43,408.5 697.61,413.5 698.79,418.7 699.96,414.9 701.14,417.3 702.32,421.4 703.49,411.8 704.67,400.3 705.85,405.4 707.02,411.2 708.20,411.0 709.38,412.4 710.55,417.6 711.73,416.0 712.91,413.7 714.08,412.6 715.26,411.2 716.44,429.1 717.61,421.6 718.79,413.7 719.97,413.2 721.14,412.4 722.32,408.0 723.50,403.5 724.67,404.7 725.85,411.6 727.02,418.8 728.20,411.5 729.38,403.5 730.55,416.3 731.73,410.8 732.91,404.7 734.08,412.4 735.26,410.7 736.44,408.6 737.61,413.9 738.79,420.1 739.97,416.3 741.14,412.4 742.32,407.9 743.50,402.4 744.67,397.7 745.85,413.7 747.03,412.9 748.20,411.2 749.38,412.1 750.56,413.7 751.73,406.0 752.91,402.1 754.09,396.4 755.26,409.9 756.44,409.1 757.62,407.3 758.79,441.9 759.97,409.9 761.15,398.1 762.32,386.3 763.50,411.3 764.68,398.5 765.85,404.2 767.03,411.3 768.21,403.9 769.38,396.5 770.56,402.6 771.74,408.7 772.91,410.8 774.09,415.6 775.27,417.7 776.44,408.5 777.62,397.7 778.80,388.2 779.97,404.9 781.15,406.9 782.33,411.3 783.50,424.1 784.68,418.0 785.86,408.7 787.03,399.1 788.21,388.8 789.39,408.7 790.56,397.2 791.74,406.4 792.92,416.4 794.09,414.3 795.27,411.3 796.45,400.4 797.62,409.7 798.80,419.0 799.98,414.7 801.15,408.7 802.33,403.9 803.50,398.5 804.68,419.0 805.86,416.2 807.03,412.6 808.21,408.7 809.39,413.8 810.56,420.1 811.74,425.4 812.92,404.1 814.09,382.4 815.27,426.7 816.45,413.7 817.62,399.7 818.80,419.0 819.98,410.2 821.15,400.3 822.33,391.2 823.51,396.6 824.68,402.6 825.86,408.1 827.04,414.9 828.21,409.8 829.39,404.4 830.57,403.9 831.74,402.6 832.92,409.1 834.10,416.7 835.27,396.4 836.45,396.9 837.63,398.4 838.80,398.2 839.98,413.1 841.16,407.5 842.33,401.7 843.51,405.8 844.69,411.3 845.86,414.9 847.04,405.6 848.22,395.6 849.39,402.6 850.57,411.4 851.75,407.9 852.92,403.2 854.10,400.0 855.28,409.1 856.45,418.4 857.63,406.0 858.81,392.0 859.98,379.8 861.16,401.7 862.34,423.7 863.51,403.8 864.69,381.8 865.87,363.0 867.04,390.7 868.22,418.4 869.40,404.5 870.57,390.3 871.75,327.9 872.93,381.5 874.10,436.0 875.28,426.9 876.46,415.8 877.63,407.9 878.81,406.5 879.99,404.4 881.16,397.3 882.34,389.4 883.51,410.2 884.69,400.9 885.87,391.3 887.04,400.7 888.22,382.8 889.40,385.6 890.57,398.8 891.75,412.1 892.93,411.0 894.10,407.0 895.28,404.5 896.46,319.5 897.63,363.1 898.81,408.3 899.99,404.2 901.16,398.8 902.34,397.0 903.52,395.1 904.69,412.1 905.87,407.7 907.05,402.6 908.22,404.2 909.40,408.1 910.58,410.2 911.75,403.2 912.93,396.0 914.11,396.5 915.28,400.1 916.46,400.7 917.64,419.6 918.81,405.5 919.99,391.3 921.17,401.4 922.34,412.1 923.52,388.5 924.70,363.9 925.87,388.4 927.05,414.0 928.23,398.6 929.40,382.7 930.58,367.7 931.76,391.3 932.93,367.4 934.11,342.1 935.29,427.2 936.46,403.9 937.64,380.0 938.82,395.5 939.99,411.0 941.17,407.4 942.35,411.9 943.52,416.9 944.70,385.9 945.88,394.5 947.05,404.7 948.23,397.8 949.41,388.6 950.58,398.6 951.76,408.8 952.94,385.9 954.11,383.7 955.29,380.5 956.47,396.6 957.64,379.1 958.82,390.3 960.00,402.0 961.17,376.4 962.35,385.8 963.52,396.6 964.70,395.5 965.88,394.0 967.05,362.3 968.23,376.6 969.41,391.2 970.58,398.3 971.76,406.1 972.94,392.0 974.11,377.8 975.29,393.9 976.47,390.3 977.64,385.9 978.82,369.7 980.00,380.2 981.17,391.2 982.35,388.6 983.53,381.2 984.70,373.0 985.88,389.5 987.06,406.1 988.23,387.2 989.41,387.7 990.59,389.9 991.76,390.8 992.94,392.6 994.12,386.8 995.29,380.5 996.47,385.4 997.65,391.2 998.82,383.2 1000.00,392.6" fill="none" stroke="#e67f38" stroke-width="2.5" stroke-linejoin="round" stroke-linecap="round"/>
</g>
<line x1="387.9" y1="721.1" x2="417.8" y2="721.1" stroke="#5f99d0" stroke-width="2.25"/>
<line x1="522.9" y1="721.1" x2="553.1" y2="721.1" stroke="#e67f38" stroke-width="2.25"/>
<text x="420.5" y="724.9" font-size="12.3" textLength="83" lengthAdjust="spacingAndGlyphs">50th Percentile</text>
<text x="556" y="724.9" font-size="12.3" textLength="83" lengthAdjust="spacingAndGlyphs">85th Percentile</text>
</g>
</svg>
</body></html>
